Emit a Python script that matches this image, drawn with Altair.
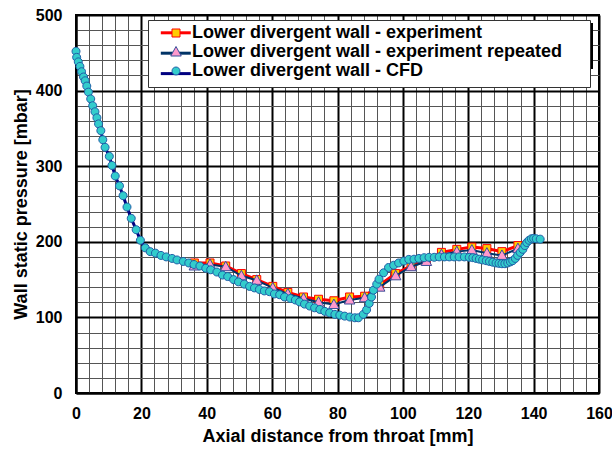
import altair as alt
import pandas as pd

F = "Liberation Sans"
S1 = "Lower divergent wall - experiment"
S2 = "Lower divergent wall - experiment repeated"
S3 = "Lower divergent wall - CFD"
SERIES = [S1, S2, S3]

exp_x = [36.2, 41.0, 45.8, 50.6, 55.3, 60.2, 64.8, 69.6, 74.2, 78.9, 83.7, 88.3,
         92.9, 97.8, 102.5, 107.2, 111.8, 116.5, 121.1, 125.7, 130.3, 135.2]
exp_y = [172, 172, 168, 158, 150, 141, 133, 127, 124, 122, 127, 128,
         143, 158, 168, 175, 186, 190, 193, 191, 187, 195]
rep_y = [168, 170, 167, 155, 149, 139, 131, 125, 120, 117, 123, 126,
         140, 155, 167, 174, 183, 187, 189, 185, 182, 191]

cfd_x = [0.0, 0.2, 0.7, 1.2, 1.7, 2.3, 2.8, 3.3, 3.8, 4.5, 5.1, 5.8, 6.4, 6.9, 7.6,
         8.2, 8.9, 10.2, 11.0, 12.0, 13.3, 14.4, 15.6, 16.9, 18.4, 19.7, 21.2, 22.7,
         24.3, 26.0, 27.6, 29.4, 30.9, 32.8, 34.5, 36.1, 37.9, 39.7, 41.2, 43.1, 44.8,
         46.4, 48.2, 49.7, 51.5, 53.1, 54.6, 56.1, 57.6, 59.2, 60.7, 62.3, 63.8, 65.6,
         67.1, 68.4, 69.9, 71.5, 73.0, 74.6, 76.1, 77.6, 79.2, 80.7, 82.2, 83.8, 85.3,
         86.4, 87.9, 88.9, 89.7, 90.4, 91.0, 92.0, 92.7, 94.1, 95.6, 97.2, 98.7, 100.3,
         101.8, 103.4, 104.9, 106.5, 108.0, 109.6, 111.1, 112.7, 114.2, 115.7, 117.2,
         118.8, 120.3, 121.4, 122.4, 123.4, 124.4, 125.5, 126.5, 127.5, 128.5, 129.4,
         130.3, 131.2, 132.1, 132.9, 133.6, 134.4, 135.1, 135.9, 136.7, 137.3, 137.9,
         138.6, 139.3, 140.0, 140.8, 142.0]
cfd_y = [452, 444, 438, 432, 425, 418, 413, 406, 398, 389, 380, 372, 364, 356, 347,
         335, 325, 313, 301, 287, 274, 261, 246, 231, 216, 202, 192, 187,
         185, 182, 180, 178, 176, 174, 172, 170, 168, 165, 163, 160, 156,
         154, 150, 147, 144, 141, 139, 137, 135, 134, 131, 130, 127, 125,
         123, 120.5, 117.6, 115, 112.7, 110.5, 108, 106, 104, 103, 101.7, 100.5, 99.5,
         99.5, 104, 110, 118.5, 127, 136, 144, 150.6, 159, 166, 169, 172, 174.5,
         176.7, 177, 178, 179, 179.5, 179.5, 180, 180, 180, 180, 180,
         180, 179.5, 179, 178, 177, 176, 175, 174, 173, 172, 171.5,
         171, 171, 172, 173.5, 175, 178, 182, 186, 190, 195, 199,
         202, 204, 204.5, 204, 203.5]

x_major = [0, 20, 40, 60, 80, 100, 120, 140, 160]
y_major = [0, 100, 200, 300, 400, 500]
x_minor = [v for v in range(0, 161, 4) if v % 20]
y_minor = [v for v in range(0, 501, 20) if v % 100]

line_colors = ["#FF0000", "#003366", "#000080"]
line_widths = [3, 2, 3]
marker_fills = ["#FFCC00", "#FF99CC", "#33CCCC"]
marker_strokes = ["#FF0000", "#3A4F9A", "#1F5FA8"]
SHAPE_LINE = "M-3,0H3"
shapes = ["M-0.8,-0.8H0.8V0.8H-0.8Z",
          "M0,-1.1L1.05,0.8H-1.05Z",
          "M0.8,0A0.8,0.8,0,1,1,-0.8,0A0.8,0.8,0,1,1,0.8,0Z"]

df = pd.concat([
    pd.DataFrame({"x": exp_x, "y": exp_y, "series": S1}),
    pd.DataFrame({"x": exp_x, "y": rep_y, "series": S2}),
    pd.DataFrame({"x": cfd_x, "y": cfd_y, "series": S3}),
], ignore_index=True)


def pick(values):
    return (f"datum.value === '{S1}' ? '{values[0]}' : "
            f"datum.value === '{S2}' ? '{values[1]}' : '{values[2]}'")


xs = alt.Scale(domain=[0, 160], nice=False, zero=False)
ys = alt.Scale(domain=[0, 500], nice=False, zero=False)

major_x = alt.Axis(values=x_major, grid=True, gridColor="black", gridWidth=2,
                   ticks=False, domain=True, domainColor="black", domainWidth=2,
                   labelFont=F, labelFontSize=16, labelFontWeight="bold", labelColor="black",
                   labelPadding=12, labelFlush=False, labelOverlap=False,
                   title="Axial distance from throat [mm]", titleFont=F, titleFontSize=18,
                   titleFontWeight="bold", titleColor="black", titlePadding=6, orient="bottom")
major_y = alt.Axis(values=y_major, grid=True, gridColor="black", gridWidth=2,
                   ticks=False, domain=True, domainColor="black", domainWidth=2,
                   labelFont=F, labelFontSize=16, labelFontWeight="bold", labelColor="black",
                   labelPadding=14, labelFlush=False, labelOverlap=False,
                   title="Wall static pressure [mbar]", titleFont=F, titleFontSize=18,
                   titleFontWeight="bold", titleColor="black", titlePadding=5, orient="left")
minor_x = alt.Axis(values=x_minor, grid=True, gridColor="#555555", gridWidth=1,
                   labels=False, ticks=False, domain=False, title=None, orient="top")
minor_y = alt.Axis(values=y_minor, grid=True, gridColor="#555555", gridWidth=1,
                   labels=False, ticks=False, domain=False, title=None, orient="right")

LX, LY = 72, 5
common = dict(orient="none", padding=4, symbolOffset=15, labelFontWeight="bold",
              labelLimit=1000, labelOffset=7, title=None, symbolSize=100)
# frame legends carry invisible, slightly wider labels so the frame extends past the text
frame = dict(labelFont="DejaVu Sans Condensed", labelFontSize=17.6, rowPadding=1.4,
             labelOpacity=0)
shadow_legend = alt.Legend(legendX=LX + 3, legendY=LY + 3, fillColor="black",
                           symbolOpacity=0, **frame, **common)
line_legend = alt.Legend(legendX=LX, legendY=LY, symbolType=SHAPE_LINE, symbolStrokeWidth=3,
                         fillColor="white", strokeColor="#333333", **frame, **common)
point_legend = alt.Legend(
    legendX=LX, legendY=LY, symbolStrokeWidth=1, labelOpacity=1, labelColor="black",
    labelFont=F, labelFontSize=18, rowPadding=1, symbolOpacity=1,
    symbolFillColor=alt.ExprRef(expr=pick(marker_fills)),
    symbolStrokeColor=alt.ExprRef(expr=pick(marker_strokes)),
    **common)

base = alt.Chart(df)

grid_layer = base.mark_point(filled=True).encode(
    x=alt.X("x:Q", scale=xs, axis=minor_x),
    y=alt.Y("y:Q", scale=ys, axis=minor_y),
    opacity=alt.Opacity("series:O", scale=alt.Scale(range=[0, 0]), legend=shadow_legend),
)

layers = [grid_layer]
for i, s in enumerate(SERIES):
    first = i == 0
    ln = base.transform_filter(alt.datum.series == s).mark_line(
        strokeWidth=line_widths[i]).encode(
        x=alt.X("x:Q", scale=xs, axis=major_x if first else None),
        y=alt.Y("y:Q", scale=ys, axis=major_y if first else None),
        color=alt.Color("series:N", scale=alt.Scale(domain=SERIES, range=line_colors),
                        legend=line_legend),
    )
    pt = base.transform_filter(alt.datum.series == s).mark_point(
        filled=True, size=100, strokeWidth=1, opacity=1).encode(
        x=alt.X("x:Q", scale=xs, axis=None),
        y=alt.Y("y:Q", scale=ys, axis=None),
        fill=alt.Fill("series:N", sort=SERIES, scale=alt.Scale(range=marker_fills),
                      legend=None),
        stroke=alt.Stroke("series:N", sort=SERIES, scale=alt.Scale(range=marker_strokes),
                          legend=None),
        shape=alt.Shape("series:N", sort=SERIES, scale=alt.Scale(range=shapes),
                        legend=point_legend),
    )
    layers += [ln, pt]

chart = alt.layer(*layers).resolve_axis(x="independent", y="independent").properties(
    width=523, height=378,
    autosize=alt.AutoSizeParams(type="none"),
    padding={"left": 76, "top": 15, "right": 13, "bottom": 58},
    background="white",
).configure_view(stroke="black", strokeWidth=2)

chart.save("out.html", embed_options={"renderer": "svg", "actions": False})
